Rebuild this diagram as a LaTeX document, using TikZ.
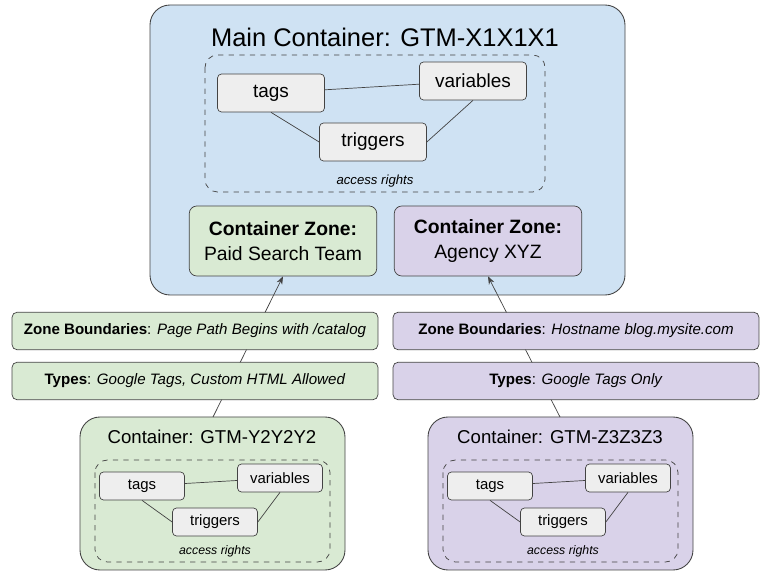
\documentclass[tikz,border=0pt]{standalone}
\usepackage{fontspec}
\setmainfont{Liberation Sans}
\usetikzlibrary{arrows.meta}
\definecolor{mainblue}{RGB}{207,226,243}
\definecolor{zonegreen}{RGB}{217,234,211}
\definecolor{zonepurple}{RGB}{217,210,233}
\definecolor{boxgray}{RGB}{238,238,238}
\definecolor{edgegray}{RGB}{67,67,67}
\begin{document}
\begin{tikzpicture}
        [x=0.02cm, y=-0.02cm,
        cont/.style = {draw=edgegray, rounded corners=4mm, line width=0.5pt},
        rights/.style = {draw=edgegray, dashed, rounded corners=2.5mm, line width=0.4pt},
        big/.style = {draw=edgegray, fill=boxgray, rounded corners=0.8mm, minimum width=2.14cm, minimum height=0.76cm, font=\fontsize{10.8}{12}\selectfont},
        small/.style = {draw=edgegray, fill=boxgray, rounded corners=0.8mm, minimum width=1.7cm, minimum height=0.56cm, font=\fontsize{8.5}{10}\selectfont},
        zone/.style = {draw=edgegray, rounded corners=1.5mm, minimum width=3.75cm, minimum height=1.4cm, align=center, font=\fontsize{11}{14}\selectfont},
        bar/.style = {draw=edgegray, rounded corners=1mm, minimum width=7.32cm, minimum height=0.75cm, font=\fontsize{8.6}{10}\selectfont},
        lines/.style = {line width=0.4pt, draw=edgegray},
        arrow/.style = {line width=0.4pt, draw=edgegray, -{Stealth[length=1.6mm]}}]
        \useasboundingbox (0,0) rectangle (768,577);

        % main container
        \draw[cont, fill=mainblue] (150,5) rectangle (625,295);
        \node[font=\fontsize{14.5}{16}\selectfont] (mtitle) at (385,37) {Main Container: GTM-X1X1X1};
        \draw[rights] (205,55) rectangle (545,192);
        \node[font=\fontsize{7.5}{9}\itshape] (mrights) at (375,181) {access rights};
        \node[big] (mtags) at (271,93) {tags};
        \node[big] (mvars) at (473,81) {variables};
        \node[big] (mtrig) at (373,142) {triggers};
        \draw[lines] (mtags) -- (mvars);
        \draw[lines] (mtags.south) -- (mtrig.west);
        \draw[lines] (mtrig.east) -- (mvars.south);

        \node[zone, fill=zonegreen] (zpaid) at (283,241) {\textbf{Container Zone:}\\Paid Search Team};
        \node[zone, fill=zonepurple] (zagency) at (488,241) {\textbf{Container Zone:}\\Agency XYZ};

        % green container
        \draw[cont, fill=zonegreen] (80,417) rectangle (345,570);
        \node[font=\fontsize{10.6}{12}\selectfont] (ytitle) at (212,437) {Container: GTM-Y2Y2Y2};
        \coordinate (ytop) at (213,417);
        \draw[rights] (95,460) rectangle (330,562);
        \node[font=\fontsize{7}{8}\itshape] (yrights) at (215,551) {access rights};
        \node[small] (ytags) at (142,486) {tags};
        \node[small] (yvars) at (280,478) {variables};
        \node[small] (ytrig) at (215,522) {triggers};
        \draw[lines] (ytags) -- (yvars);
        \draw[lines] (ytags.south) -- (ytrig.west);
        \draw[lines] (ytrig.east) -- (yvars.south);

        % purple container
        \draw[cont, fill=zonepurple] (428,417) rectangle (693,570);
        \node[font=\fontsize{10.6}{12}\selectfont] (ztitle) at (560,437) {Container: GTM-Z3Z3Z3};
        \coordinate (ztop) at (560,417);
        \draw[rights] (443,460) rectangle (678,562);
        \node[font=\fontsize{7}{8}\itshape] (zrights) at (563,551) {access rights};
        \node[small] (ztags) at (490,486) {tags};
        \node[small] (zvars) at (628,478) {variables};
        \node[small] (ztrig) at (563,522) {triggers};
        \draw[lines] (ztags) -- (zvars);
        \draw[lines] (ztags.south) -- (ztrig.west);
        \draw[lines] (ztrig.east) -- (zvars.south);

        \draw[arrow] (ytop) -- (zpaid.south);
        \draw[arrow] (ztop) -- (zagency.south);

        % boundaries and types
        \node[bar, fill=zonegreen] (ybound) at (195,331) {\textbf{Zone Boundaries}: \textit{Page Path Begins with /catalog}};
        \node[bar, fill=zonegreen] (ytypes) at (195,381) {\textbf{Types}: \textit{Google Tags, Custom HTML Allowed}};
        \node[bar, fill=zonepurple] (zbound) at (576,331) {\textbf{Zone Boundaries}: \textit{Hostname blog.mysite.com}};
        \node[bar, fill=zonepurple] (ztypes) at (576,381) {\textbf{Types}: \textit{Google Tags Only}};
\end{tikzpicture}
\end{document}
